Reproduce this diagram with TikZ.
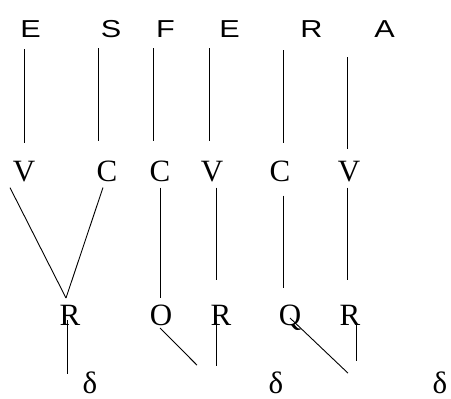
\documentclass[tikz,border=0pt]{standalone}
\usepackage{fontspec}
\setmainfont{Liberation Serif}
\setsansfont{Liberation Sans}
\newcommand{\wide}[1]{\scalebox{1.25}[1]{#1}}
\begin{document}
\begin{tikzpicture}[x=1pt,y=-1pt,
    word/.style={font=\sffamily\fontsize{24.5}{24.5}\selectfont, inner sep=0pt, anchor=base},
    slot/.style={font=\fontsize{31}{31}\selectfont, inner sep=0pt, anchor=base},
    link/.style={line width=0.9pt}]
    \useasboundingbox (0,0) rectangle (451,399);
    % letters of the word
    \node[word] (e1) at (30.5,37.5) {\wide{E}};
    \node[word] (s)  at (111,37.5) {\wide{S}};
    \node[word] (f)  at (165.5,37.5) {\wide{F}};
    \node[word] (e2) at (229.5,37.5) {\wide{E}};
    \node[word] (r)  at (311.5,37.5) {\wide{R}};
    \node[word] (a)  at (384.5,37.5) {\wide{A}};
    % C and V slots
    \node[slot] (v1) at (24,181.5) {V};
    \node[slot] (c1) at (107,181.5) {C};
    \node[slot] (c2) at (160,181.5) {C};
    \node[slot] (v2) at (212,181.5) {V};
    \node[slot] (c3) at (280,181.5) {C};
    \node[slot] (v3) at (349,181.5) {V};
    % R, O, Q level
    \node[slot] (r1) at (70,325) {R};
    \node[slot] (o)  at (161,325) {O};
    \node[slot] (r2) at (221,325) {R};
    \node[slot] (q)  at (290,325) {Q};
    \node[slot] (r3) at (350,325) {R};
    % deltas
    \node[slot] (d1) at (90,393) {δ};
    \node[slot] (d2) at (276,393) {δ};
    \node[slot] (d3) at (440,393) {δ};
    % word to slots
    \draw[link] ([shift={(-6.5,11.5)}]e1.south) -- ([shift={(0,-18)}]v1.north);
    \draw[link] ([shift={(-13,10.5)}]s.south) -- ([shift={(-9,-19.5)}]c1.north);
    \draw[link] ([shift={(-12.5,10.5)}]f.south) -- ([shift={(-7,-19.5)}]c2.north);
    \draw[link] ([shift={(-20.5,10.5)}]e2.south) -- ([shift={(-3,-20)}]v2.north);
    \draw[link] ([shift={(-28.5,12.5)}]r.south) -- ([shift={(3,-17.5)}]c3.north);
    \draw[link] ([shift={(-37.5,19.5)}]a.south) -- ([shift={(-2,-12)}]v3.north);
    % slots to R, O, Q
    \draw[link] ([shift={(-14,5.5)}]v1.south) -- ([shift={(-4,-6.5)}]r1.north);
    \draw[link] ([shift={(-4,5.5)}]c1.south) -- ([shift={(-4,-6.5)}]r1.north);
    \draw[link] ([shift={(0,5.5)}]c2.south) -- ([shift={(-1,-6)}]o.north);
    \draw[link] ([shift={(4,5.5)}]v2.south) -- ([shift={(-5,-24.5)}]r2.north);
    \draw[link] ([shift={(3,13.5)}]c3.south) -- ([shift={(-7,-16)}]q.north);
    \draw[link] ([shift={(-2,5.5)}]v3.south) -- ([shift={(-3,-24.5)}]r3.north);
    % down to the deltas
    \draw[link] ([shift={(-3,-5)}]r1.base) -- ([shift={(-23,3)}]d1.north);
    \draw[link] ([shift={(-1,3)}]o.base) -- ([shift={(-79,-6)}]d2.north);
    \draw[link] ([shift={(-5,-5)}]r2.base) -- ([shift={(-60,-5)}]d2.north);
    \draw[link] ([shift={(0,-7)}]q.base) -- ([shift={(-92,2)}]d3.north);
    \draw[link] ([shift={(6,-2)}]r3.base) -- ([shift={(-84,-10)}]d3.north);
\end{tikzpicture}
\end{document}
